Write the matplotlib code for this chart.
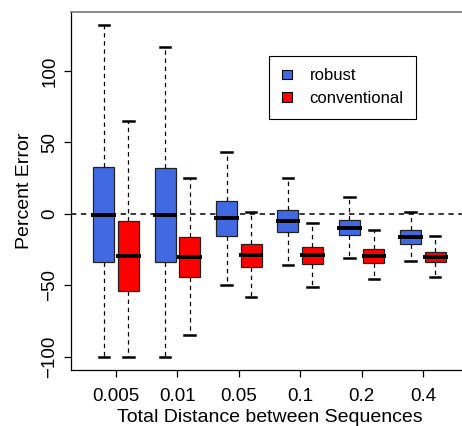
import matplotlib
matplotlib.use("Agg")
import matplotlib.pyplot as plt
from matplotlib.patches import Patch

plt.rcParams['font.family'] = ['Liberation Sans', 'DejaVu Sans']

categories = ["0.005", "0.01", "0.05", "0.1", "0.2", "0.4"]

# robust: whisker low, q1, median, q3, whisker high
robust_whislo = [-100, -100, -50, -36, -30.6, -33]
robust_q1 = [-34, -34, -15.5, -13, -15, -21]
robust_med = [-0.5, -0.5, -3, -5, -9.7, -16]
robust_q3 = [32.5, 32, 9, 3, -4, -11]
robust_whishi = [132, 117, 43, 25, 12, 1.3]

conv_whislo = [-100, -85, -58, -51, -45.6, -44]
conv_q1 = [-54, -44, -37, -35, -34.4, -34]
conv_med = [-29.5, -30.5, -29, -29, -29.7, -30]
conv_q3 = [-5, -16, -21, -23.5, -24.6, -26.5]
conv_whishi = [65, 25, 1, -6.5, -11, -15.5]

W, H = 462, 426
fig = plt.figure(figsize=(W / 100, H / 100), dpi=100)
left, right, top, bottom = 71, 468, 12, 370
ax = fig.add_axes([left / W, 1 - bottom / H, (right - left) / W, (bottom - top) / H])

def stats(lo, q1, med, q3, hi):
    return [dict(whislo=a, q1=b, med=c, q3=d, whishi=e, fliers=[])
            for a, b, c, d, e in zip(lo, q1, med, q3, hi)]

idx = list(range(len(categories)))
off = 0.2
bw = 0.34

for st, col, pos in [
    (stats(robust_whislo, robust_q1, robust_med, robust_q3, robust_whishi), '#4169E1', [i - off for i in idx]),
    (stats(conv_whislo, conv_q1, conv_med, conv_q3, conv_whishi), '#FF0000', [i + off for i in idx]),
]:
    res = ax.bxp(st, positions=pos, widths=bw, patch_artist=True, showfliers=False,
                 boxprops=dict(facecolor=col, edgecolor='#222222', linewidth=0.9),
                 medianprops=dict(color='black', linewidth=2.8, solid_capstyle='butt'),
                 whiskerprops=dict(color='black', linewidth=0.9, linestyle=(0, (3.5, 3))),
                 capprops=dict(color='black', linewidth=1.8),
                 capwidths=bw * 0.5)
    # R draws medians slightly wider than the box
    for ln in res['medians']:
        xd = ln.get_xdata()
        ln.set_xdata([xd[0] - 0.03, xd[1] + 0.03])

ax.axhline(0, color='black', linewidth=1.1, linestyle=(0, (3.5, 3)), zorder=0.5)

ax.set_xlim(-0.733, 5.733)
ax.set_ylim(-109.3, 141.3)
ax.set_xticks(idx)
ax.set_xticklabels(categories)
ax.set_yticks([-100, -50, 0, 50, 100])
ax.set_yticklabels(["\u2212100", "\u221250", "0", "50", "100"], rotation=90, va='center')
ax.tick_params(direction='out', length=5, width=0.9, labelsize=13.5)
ax.tick_params(axis='x', pad=8)
ax.tick_params(axis='y', pad=4)
for s in ['left', 'bottom']:
    ax.spines[s].set_linewidth(0.9)
ax.spines['top'].set_linewidth(1.2)
ax.spines['top'].set_color('#777777')
ax.spines['right'].set_visible(False)

ax.set_xlabel("Total Distance between Sequences", fontsize=14, labelpad=3)
ax.set_ylabel("Percent Error", fontsize=14, labelpad=6)

handles = [Patch(facecolor='#4169E1', edgecolor='black', linewidth=0.8, label='robust'),
           Patch(facecolor='#FF0000', edgecolor='black', linewidth=0.8, label='conventional')]
leg = ax.legend(handles=handles, loc='upper left',
                bbox_to_anchor=(269 / W, 1 - 56 / H), bbox_transform=fig.transFigure,
                fancybox=False, edgecolor='black', framealpha=1, fontsize=12,
                handlelength=0.6, handleheight=0.5, handletextpad=1.08,
                borderpad=0.75, labelspacing=0.45, borderaxespad=0)
leg.get_frame().set_linewidth(0.8)

fig.savefig("out.png", dpi=100)
